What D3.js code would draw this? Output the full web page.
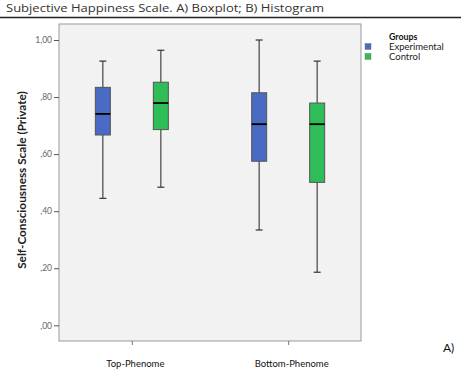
<!DOCTYPE html>
<html lang="en">
<head>
<meta charset="UTF-8">
<title>Boxplot</title>
<script src="https://d3js.org/d3.v7.min.js"></script>
<style>
  body { margin: 0; background: #fff; }
  svg text { font-family: Lato, "Open Sans", sans-serif; }
</style>
</head>
<body>
<div id="chart"></div>
<script>
// categories and groups
const phenomes = ["Top-Phenome", "Bottom-Phenome"];
const groups = ["Experimental", "Control"];
const groupColors = ["#4a6bc4", "#2fbd57"];

// box stats per phenome, ordered [Experimental, Control]
const whiskerLow  = [[0.445, 0.484], [0.334, 0.186]];
const q1          = [[0.667, 0.686], [0.575, 0.501]];
const median      = [[0.741, 0.779], [0.705, 0.705]];
const q3          = [[0.834, 0.852], [0.815, 0.779]];
const whiskerHigh = [[0.926, 0.964], [1.000, 0.926]];

const yTicks = [0, 0.2, 0.4, 0.6, 0.8, 1.0];
const yTickLabels = [",00", ",20", ",40", ",60", ",80", "1,00"];

const width = 461, height = 377;
const plot = {left: 59, right: 361, top: 24, bottom: 341};

const svg = d3.select("#chart").append("svg")
    .attr("width", width)
    .attr("height", height);

// title + rule (the source text is a wide face, so stretch it to width)
svg.append("text")
    .attr("x", 6).attr("y", 12)
    .attr("font-size", 11)
    .attr("textLength", 318)
    .attr("lengthAdjust", "spacingAndGlyphs")
    .style("font-family", "'Open Sans', sans-serif")
    .attr("fill", "#333")
    .text("Subjective Happiness Scale. A) Boxplot; B) Histogram");
svg.append("line")
    .attr("x1", 0).attr("x2", width)
    .attr("y1", 17.5).attr("y2", 17.5)
    .attr("stroke", "#222").attr("stroke-width", 1.5);

const x = d3.scalePoint().domain(phenomes)
    .range([plot.left, plot.right]).padding(0.466);
const xg = d3.scalePoint().domain(groups).range([-29, 29]);
const y = d3.scaleLinear().domain([0, 1]).range([325.3, 40]);

// plot panel
svg.append("rect")
    .attr("x", plot.left).attr("y", plot.top)
    .attr("width", plot.right - plot.left)
    .attr("height", plot.bottom - plot.top)
    .attr("fill", "#f2f2f2")
    .attr("stroke", "#999").attr("stroke-width", 1);

// y axis
const yAxis = d3.axisLeft(y).tickValues(yTicks)
    .tickFormat((d, i) => yTickLabels[i])
    .tickSize(5).tickPadding(2);
const gy = svg.append("g")
    .attr("transform", `translate(${plot.left},0)`)
    .call(yAxis);
gy.select(".domain").remove();
gy.selectAll(".tick line").attr("stroke", "#555");
gy.selectAll(".tick text").attr("fill", "#666").attr("font-size", 8.5);

// x axis
const xAxis = d3.axisBottom(x).tickSize(4).tickPadding(15);
const gx = svg.append("g")
    .attr("transform", `translate(0,${plot.bottom})`)
    .call(xAxis);
gx.select(".domain").remove();
gx.selectAll(".tick line").attr("stroke", "#777");
gx.selectAll(".tick text").attr("fill", "#111").attr("font-size", 9.5)
    .attr("dx", 3);

// y axis title
svg.append("text")
    .attr("transform", "translate(26,180) rotate(-90)")
    .attr("text-anchor", "middle")
    .attr("font-size", 11.8)
    .attr("font-weight", "bold")
    .attr("fill", "#222")
    .text("Self-Consciousness Scale (Private)");

// boxes
const boxW = 15, capW = 7;
phenomes.forEach((p, pi) => {
  groups.forEach((g, gi) => {
    const cx = x(p) + xg(g);
    const box = svg.append("g");
    box.append("line")
        .attr("x1", cx).attr("x2", cx)
        .attr("y1", y(whiskerLow[pi][gi])).attr("y2", y(whiskerHigh[pi][gi]))
        .attr("stroke", "#444").attr("stroke-width", 1.2);
    [whiskerLow[pi][gi], whiskerHigh[pi][gi]].forEach(v => {
      box.append("line")
          .attr("x1", cx - capW / 2).attr("x2", cx + capW / 2)
          .attr("y1", y(v)).attr("y2", y(v))
          .attr("stroke", "#333").attr("stroke-width", 1.2);
    });
    box.append("rect")
        .attr("x", cx - boxW / 2).attr("y", y(q3[pi][gi]))
        .attr("width", boxW)
        .attr("height", y(q1[pi][gi]) - y(q3[pi][gi]))
        .attr("fill", groupColors[gi])
        .attr("stroke", "#555").attr("stroke-width", 1);
    box.append("line")
        .attr("x1", cx - boxW / 2).attr("x2", cx + boxW / 2)
        .attr("y1", y(median[pi][gi])).attr("y2", y(median[pi][gi]))
        .attr("stroke", "#000").attr("stroke-width", 1.8);
  });
});

// legend
const legend = svg.append("g");
legend.append("text")
    .attr("x", 389).attr("y", 40)
    .attr("font-size", 8.8).attr("font-weight", "bold")
    .attr("fill", "#111")
    .text("Groups");
groups.forEach((g, i) => {
  legend.append("rect")
      .attr("x", 365).attr("y", 43.5 + i * 10)
      .attr("width", 6).attr("height", 6)
      .attr("fill", groupColors[i])
      .attr("stroke", "#777").attr("stroke-width", 0.5);
  legend.append("text")
      .attr("x", 389).attr("y", 50 + i * 10)
      .attr("font-size", 9.5).attr("fill", "#222")
      .text(g);
});

// panel label
svg.append("text")
    .attr("x", 443).attr("y", 351.5)
    .attr("font-size", 12).attr("fill", "#111")
    .text("A)");
</script>
</body>
</html>
